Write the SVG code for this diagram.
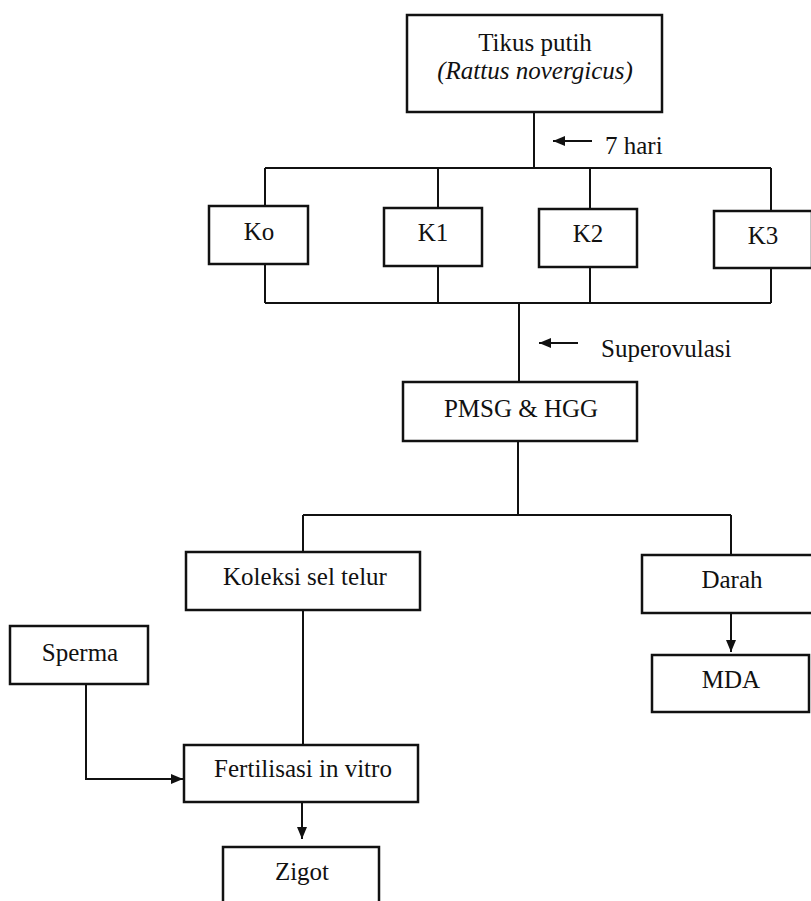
<svg xmlns="http://www.w3.org/2000/svg" width="811" height="901" viewBox="0 0 811 901">
<style>
  .box { fill: #fff; stroke: #111; stroke-width: 2.5; }
  .ln { fill: none; stroke: #111; stroke-width: 2; }
  text { font-family: "Liberation Serif", "Times New Roman", serif; font-size: 25px; fill: #111; }
  .c { text-anchor: middle; }
  .it { font-style: italic; }
</style>
<defs>
  <marker id="ah" viewBox="0 0 12 10" refX="12" refY="5" markerWidth="12" markerHeight="10" markerUnits="userSpaceOnUse" orient="auto">
    <path d="M0,0 L12,5 L0,10 z" fill="#111"/>
  </marker>
</defs>
<rect width="811" height="901" fill="#fff"/>

<g id="connectors">
  <path class="ln" d="M534,112 V168"/>
  <path class="ln" d="M265,168 H771"/>
  <path class="ln" d="M265,168 V206 M438,168 V208 M590,168 V209 M771,168 V211"/>
  <path class="ln" d="M265,264 V303 M438,266 V303 M590,267 V303 M771,268 V303"/>
  <path class="ln" d="M265,303 H771"/>
  <path class="ln" d="M519,303 V382"/>
  <path class="ln" d="M518,441 V515"/>
  <path class="ln" d="M303,515 H731"/>
  <path class="ln" d="M303,515 V552 M731,515 V555"/>
  <path class="ln" d="M303,610 V745"/>
  <path class="ln" d="M731,613 V652" marker-end="url(#ah)"/>
  <path class="ln" d="M86,684 V779 H183" marker-end="url(#ah)"/>
  <path class="ln" d="M302,802 V839" marker-end="url(#ah)"/>
  <path class="ln" d="M592,141 H553" marker-end="url(#ah)"/>
  <path class="ln" d="M578,343 H539" marker-end="url(#ah)"/>
  <text x="605" y="154">7 hari</text>
  <text x="601" y="357">Superovulasi</text>
</g>

<g id="tikus">
  <rect class="box" x="407" y="15" width="255" height="97"/>
  <text class="c" x="535" y="51">Tikus putih</text>
  <text class="c it" x="535" y="79">(Rattus novergicus)</text>
</g>
<g id="ko">
  <rect class="box" x="209" y="206" width="99" height="58"/>
  <text class="c" x="259" y="240">Ko</text>
</g>
<g id="k1">
  <rect class="box" x="384" y="208" width="98" height="58"/>
  <text class="c" x="433" y="241">K1</text>
</g>
<g id="k2">
  <rect class="box" x="539" y="209" width="98" height="58"/>
  <text class="c" x="588" y="242">K2</text>
</g>
<g id="k3">
  <rect class="box" x="714" y="211" width="98" height="57"/>
  <text class="c" x="763" y="244">K3</text>
</g>
<g id="pmsg">
  <rect class="box" x="403" y="382" width="234" height="59"/>
  <text class="c" x="521" y="417">PMSG &amp; HGG</text>
</g>
<g id="koleksi">
  <rect class="box" x="186" y="552" width="234" height="58"/>
  <text class="c" x="305" y="585">Koleksi sel telur</text>
</g>
<g id="darah">
  <rect class="box" x="642" y="555" width="180" height="58"/>
  <text class="c" x="732" y="588">Darah</text>
</g>
<g id="mda">
  <rect class="box" x="652" y="655" width="157" height="57"/>
  <text class="c" x="731" y="688">MDA</text>
</g>
<g id="sperma">
  <rect class="box" x="10" y="626" width="138" height="58"/>
  <text class="c" x="80" y="661">Sperma</text>
</g>
<g id="fertilisasi">
  <rect class="box" x="184" y="745" width="234" height="57"/>
  <text class="c" x="303" y="777">Fertilisasi in vitro</text>
</g>
<g id="zigot">
  <rect class="box" x="223" y="847" width="156" height="60"/>
  <text class="c" x="302" y="880">Zigot</text>
</g>
</svg>
